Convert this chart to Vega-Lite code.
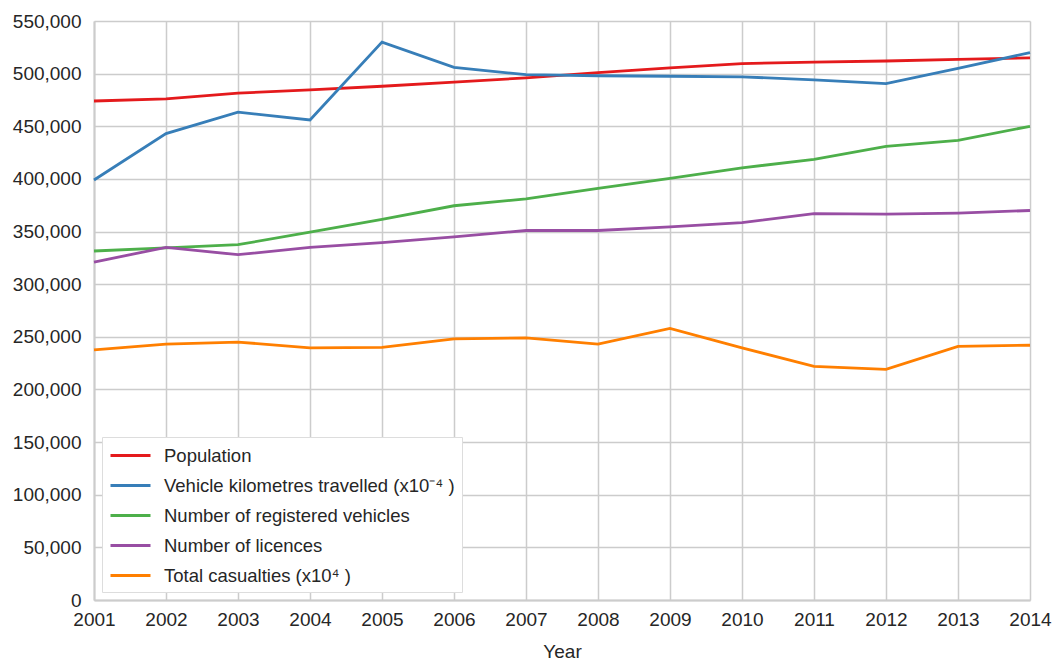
{
  "$schema": "https://vega.github.io/schema/vega-lite/v6.json",
  "width": 936,
  "height": 579,
  "autosize": {"type": "none"},
  "padding": {"left": 94, "top": 21, "right": 24, "bottom": 62},
  "background": "white",
  "config": {
    "font": "Liberation Sans",
    "view": {"stroke": null},
    "axis": {
      "gridColor": "#cccccc",
      "gridWidth": 1.5,
      "domainColor": "#cccccc",
      "domainWidth": 2,
      "ticks": false,
      "labelFontSize": 19,
      "labelColor": "#262626",
      "titleFontSize": 19,
      "titleFontWeight": "normal",
      "titleColor": "#262626"
    }
  },
  "data": {
    "values": [
      {"Year": 2001, "series": "Population", "value": 474000},
      {"Year": 2002, "series": "Population", "value": 476000},
      {"Year": 2003, "series": "Population", "value": 481500},
      {"Year": 2004, "series": "Population", "value": 484500},
      {"Year": 2005, "series": "Population", "value": 488000},
      {"Year": 2006, "series": "Population", "value": 492000},
      {"Year": 2007, "series": "Population", "value": 496000},
      {"Year": 2008, "series": "Population", "value": 501000},
      {"Year": 2009, "series": "Population", "value": 505500},
      {"Year": 2010, "series": "Population", "value": 509500},
      {"Year": 2011, "series": "Population", "value": 511000},
      {"Year": 2012, "series": "Population", "value": 512000},
      {"Year": 2013, "series": "Population", "value": 513500},
      {"Year": 2014, "series": "Population", "value": 515000},
      {"Year": 2001, "series": "Vehicle kilometres travelled (x10⁻⁴ )", "value": 399000},
      {"Year": 2002, "series": "Vehicle kilometres travelled (x10⁻⁴ )", "value": 443000},
      {"Year": 2003, "series": "Vehicle kilometres travelled (x10⁻⁴ )", "value": 463500},
      {"Year": 2004, "series": "Vehicle kilometres travelled (x10⁻⁴ )", "value": 456000},
      {"Year": 2005, "series": "Vehicle kilometres travelled (x10⁻⁴ )", "value": 530000},
      {"Year": 2006, "series": "Vehicle kilometres travelled (x10⁻⁴ )", "value": 506000},
      {"Year": 2007, "series": "Vehicle kilometres travelled (x10⁻⁴ )", "value": 499000},
      {"Year": 2008, "series": "Vehicle kilometres travelled (x10⁻⁴ )", "value": 498000},
      {"Year": 2009, "series": "Vehicle kilometres travelled (x10⁻⁴ )", "value": 497500},
      {"Year": 2010, "series": "Vehicle kilometres travelled (x10⁻⁴ )", "value": 497000},
      {"Year": 2011, "series": "Vehicle kilometres travelled (x10⁻⁴ )", "value": 494000},
      {"Year": 2012, "series": "Vehicle kilometres travelled (x10⁻⁴ )", "value": 490500},
      {"Year": 2013, "series": "Vehicle kilometres travelled (x10⁻⁴ )", "value": 505000},
      {"Year": 2014, "series": "Vehicle kilometres travelled (x10⁻⁴ )", "value": 520000},
      {"Year": 2001, "series": "Number of registered vehicles", "value": 331500},
      {"Year": 2002, "series": "Number of registered vehicles", "value": 334500},
      {"Year": 2003, "series": "Number of registered vehicles", "value": 337500},
      {"Year": 2004, "series": "Number of registered vehicles", "value": 349500},
      {"Year": 2005, "series": "Number of registered vehicles", "value": 361500},
      {"Year": 2006, "series": "Number of registered vehicles", "value": 374500},
      {"Year": 2007, "series": "Number of registered vehicles", "value": 381000},
      {"Year": 2008, "series": "Number of registered vehicles", "value": 391000},
      {"Year": 2009, "series": "Number of registered vehicles", "value": 400500},
      {"Year": 2010, "series": "Number of registered vehicles", "value": 410500},
      {"Year": 2011, "series": "Number of registered vehicles", "value": 418500},
      {"Year": 2012, "series": "Number of registered vehicles", "value": 431000},
      {"Year": 2013, "series": "Number of registered vehicles", "value": 436500},
      {"Year": 2014, "series": "Number of registered vehicles", "value": 450000},
      {"Year": 2001, "series": "Number of licences", "value": 321000},
      {"Year": 2002, "series": "Number of licences", "value": 335000},
      {"Year": 2003, "series": "Number of licences", "value": 328000},
      {"Year": 2004, "series": "Number of licences", "value": 335000},
      {"Year": 2005, "series": "Number of licences", "value": 339500},
      {"Year": 2006, "series": "Number of licences", "value": 345000},
      {"Year": 2007, "series": "Number of licences", "value": 351000},
      {"Year": 2008, "series": "Number of licences", "value": 351000},
      {"Year": 2009, "series": "Number of licences", "value": 354500},
      {"Year": 2010, "series": "Number of licences", "value": 358500},
      {"Year": 2011, "series": "Number of licences", "value": 367000},
      {"Year": 2012, "series": "Number of licences", "value": 366500},
      {"Year": 2013, "series": "Number of licences", "value": 367500},
      {"Year": 2014, "series": "Number of licences", "value": 370000},
      {"Year": 2001, "series": "Total casualties (x10⁴ )", "value": 237500},
      {"Year": 2002, "series": "Total casualties (x10⁴ )", "value": 243000},
      {"Year": 2003, "series": "Total casualties (x10⁴ )", "value": 245000},
      {"Year": 2004, "series": "Total casualties (x10⁴ )", "value": 239500},
      {"Year": 2005, "series": "Total casualties (x10⁴ )", "value": 240000},
      {"Year": 2006, "series": "Total casualties (x10⁴ )", "value": 248000},
      {"Year": 2007, "series": "Total casualties (x10⁴ )", "value": 249000},
      {"Year": 2008, "series": "Total casualties (x10⁴ )", "value": 243000},
      {"Year": 2009, "series": "Total casualties (x10⁴ )", "value": 258000},
      {"Year": 2010, "series": "Total casualties (x10⁴ )", "value": 239500},
      {"Year": 2011, "series": "Total casualties (x10⁴ )", "value": 222000},
      {"Year": 2012, "series": "Total casualties (x10⁴ )", "value": 219000},
      {"Year": 2013, "series": "Total casualties (x10⁴ )", "value": 241000},
      {"Year": 2014, "series": "Total casualties (x10⁴ )", "value": 242000}
    ]
  },
  "mark": {"type": "line", "strokeWidth": 2.8},
  "encoding": {
    "x": {
      "field": "Year",
      "type": "quantitative",
      "scale": {"domain": [2001, 2014], "nice": false, "zero": false},
      "axis": {"title": "Year", "format": "d", "values": [2001,2002,2003,2004,2005,2006,2007,2008,2009,2010,2011,2012,2013,2014], "labelPadding": 10, "titlePadding": 13, "labelFlush": false}
    },
    "y": {
      "field": "value",
      "type": "quantitative",
      "scale": {"domain": [0, 550000], "nice": false},
      "axis": {"title": null, "format": ",d", "values": [0,50000,100000,150000,200000,250000,300000,350000,400000,450000,500000,550000], "labelPadding": 13}
    },
    "color": {
      "field": "series",
      "type": "nominal",
      "scale": {
        "domain": ["Population", "Vehicle kilometres travelled (x10⁻⁴ )", "Number of registered vehicles", "Number of licences", "Total casualties (x10⁴ )"],
        "range": ["#e41a1c", "#377eb8", "#4daf4a", "#984ea3", "#ff7f00"]
      },
      "legend": {
        "title": null,
        "orient": "none",
        "legendX": 8,
        "legendY": 416,
        "symbolType": "M-2,0H2",
        "symbolSize": 400,
        "symbolStrokeWidth": 3,
        "symbolOffset": 10,
        "labelFontSize": 18.5,
        "labelColor": "#262626",
        "labelOffset": 22,
        "rowPadding": 9,
        "padding": 7,
        "fillColor": "white",
        "strokeColor": "#dddddd",
        "labelLimit": 400
      }
    }
  }
}
